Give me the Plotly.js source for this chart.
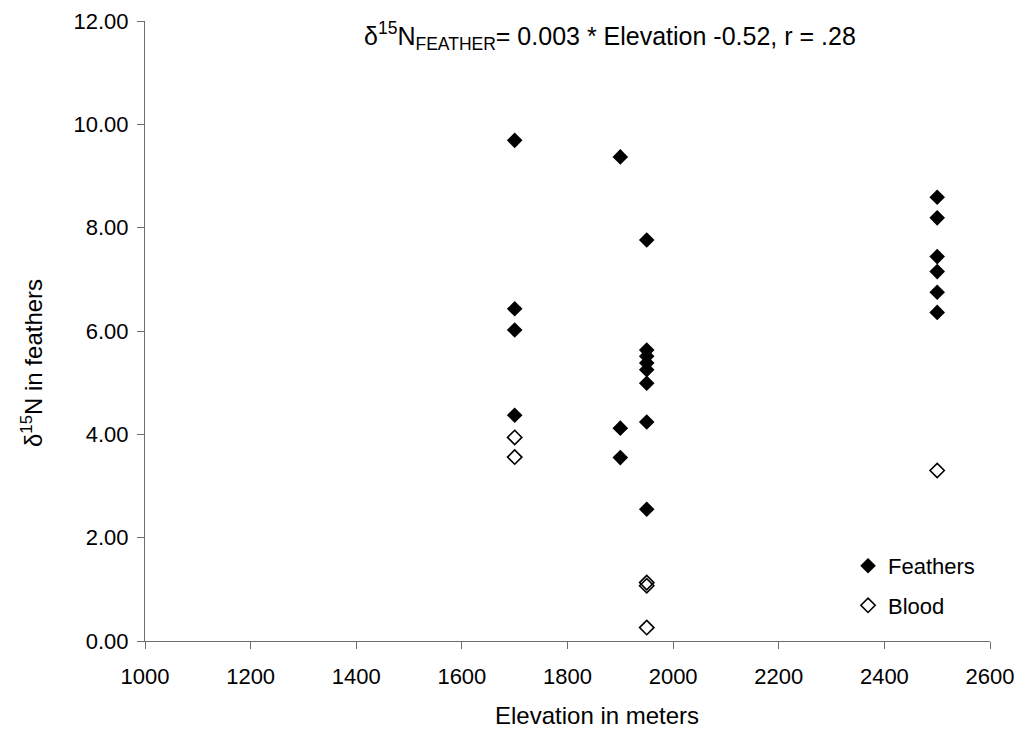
<!DOCTYPE html>
<html>
<head>
<meta charset="utf-8">
<script src="https://cdn.plot.ly/plotly-3.0.1.min.js"></script>
<style>html,body{margin:0;padding:0;background:#fff;}#chart{width:1021px;height:732px;}</style>
</head>
<body>
<div id="chart"></div>
<script>
// Feathers (filled diamonds)
const feathersElevation = [1700, 1700, 1700, 1700,
  1900, 1900, 1900,
  1950, 1950, 1950, 1950, 1950, 1950, 1950, 1950,
  2500, 2500, 2500, 2500, 2500, 2500];
const feathersN15 = [9.69, 6.43, 6.02, 4.37,
  9.37, 4.12, 3.55,
  7.76, 5.63, 5.51, 5.38, 5.25, 4.99, 4.24, 2.55,
  8.59, 8.19, 7.44, 7.15, 6.75, 6.36];
// Blood (open diamonds)
const bloodElevation = [1700, 1700, 1950, 1950, 1950, 2500];
const bloodN15 = [3.94, 3.56, 1.13, 1.07, 0.26, 3.30];

const xTicks = [1000, 1200, 1400, 1600, 1800, 2000, 2200, 2400, 2600];
const yTicks = [0, 2, 4, 6, 8, 10, 12];

const font = 'Liberation Sans, Arial, sans-serif';

const traces = [
  {
    x: feathersElevation, y: feathersN15, type: 'scatter', mode: 'markers', name: 'Feathers',
    legendgroup: 'f',
    marker: {symbol: 'diamond', size: 12, color: '#000000', line: {width: 0}}
  },
  {
    x: bloodElevation, y: bloodN15, type: 'scatter', mode: 'markers', name: 'Blood',
    legendgroup: 'b',
    marker: {symbol: 'diamond-open', size: 11, color: '#000000', line: {width: 1.6, color: '#000000'}}
  }
];

const layout = {
  width: 1021, height: 732,
  margin: {l: 145, r: 31, t: 21, b: 91},
  paper_bgcolor: '#ffffff', plot_bgcolor: '#ffffff',
  font: {family: font, size: 22, color: '#000000'},
  showlegend: true,
  legend: {
    x: 0.832, y: 0.155, xanchor: 'left', yanchor: 'top',
    bgcolor: 'rgba(0,0,0,0)', borderwidth: 0,
    font: {family: font, size: 22, color: '#000'},
    tracegroupgap: 8, itemwidth: 30, traceorder: 'grouped'
  },
  xaxis: {
    range: [1000, 2600], tickvals: xTicks, ticktext: xTicks.map(String),
    showgrid: false, zeroline: false, showline: true, linecolor: '#6e6e6e', linewidth: 1,
    ticks: 'outside', ticklen: 7, tickcolor: '#6e6e6e', tickwidth: 1,
    ticklabelstandoff: 9,
    tickfont: {family: font, size: 22, color: '#000'}
  },
  yaxis: {
    range: [0, 12], tickvals: yTicks, ticktext: yTicks.map(v => v.toFixed(2)),
    showgrid: false, zeroline: false, showline: true, linecolor: '#6e6e6e', linewidth: 1,
    ticks: 'outside', ticklen: 7, tickcolor: '#6e6e6e', tickwidth: 1,
    ticklabelstandoff: 4,
    tickfont: {family: font, size: 22, color: '#000'}
  },
  annotations: [
    {
      xref: 'paper', yref: 'paper', x: 0.55, y: 0.976, xanchor: 'center', yanchor: 'middle',
      showarrow: false,
      text: 'δ<sup>15</sup>N<sub>FEATHER</sub>= 0.003 * Elevation -0.52, r = .28',
      font: {family: font, size: 25, color: '#000'}
    },
    {
      xref: 'paper', yref: 'paper', x: 0.535, y: -0.12, xanchor: 'center', yanchor: 'middle',
      showarrow: false,
      text: 'Elevation in meters',
      font: {family: font, size: 24, color: '#000'}
    },
    {
      xref: 'paper', yref: 'paper', x: -0.134, y: 0.448, xanchor: 'center', yanchor: 'middle',
      showarrow: false, textangle: -90,
      text: 'δ<sup>15</sup>N in feathers',
      font: {family: font, size: 24, color: '#000'}
    }
  ]
};

Plotly.newPlot('chart', traces, layout, {displayModeBar: false, staticPlot: true});
</script>
</body>
</html>
